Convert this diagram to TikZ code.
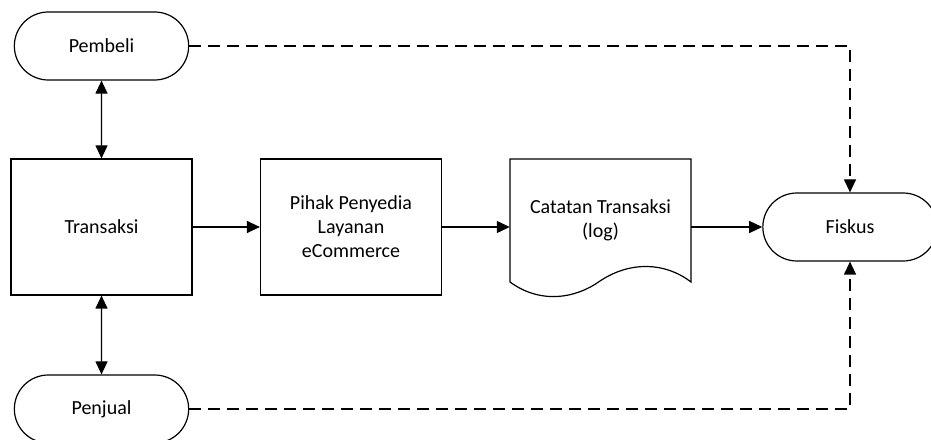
\documentclass[tikz,border=0pt]{standalone}
\usepackage{fontspec}
\setmainfont{Carlito}
\usepackage{tikz}
\usetikzlibrary{arrows.meta,shapes.misc}

\begin{document}
\begin{tikzpicture}[x=1pt, y=1pt, font=\fontsize{20}{24}\selectfont,
        terminal/.style={draw, rounded rectangle, line width=1.2pt, minimum width=181pt, minimum height=68pt},
        process/.style={draw, rectangle, line width=1.2pt, align=center, minimum width=181pt, minimum height=136pt},
        flow/.style={-{Triangle[length=13pt,width=12pt]}, line width=1.2pt},
        both/.style={{Triangle[length=13pt,width=12pt]}-{Triangle[length=13pt,width=12pt]}, line width=1.2pt},
        report/.style={flow, dash pattern=on 12pt off 7pt}]
        \useasboundingbox (0,0) rectangle (931,439);

        % Actors
        \node[terminal] (pembeli) at (101.5, 393) {Pembeli};
        \node[terminal] (penjual) at (101.5, 30) {Penjual};
        \node[terminal] (fiskus) at (850, 212) {Fiskus};

        % Process
        \node[process] (transaksi) at (101.5, 212) {Transaksi};
        \node[process] (pihak) at (351, 212) {Pihak Penyedia\\Layanan\\eCommerce};

        % Log document
        \node[minimum width=181pt, minimum height=136pt] (catatan) at (600.5, 212) {};
        \draw[line width=1.2pt] (510,157) -- (510,280) -- (691,280) -- (691,157)
            .. controls (665,177) and (630,178) .. (600,158)
            .. controls (575,140) and (540,135) .. (510,157) -- cycle;
        \node[align=center] (catatantext) at (600.5, 219) {Catatan Transaksi\\(log)};

        % Connections
        \draw[both] (pembeli) -- (transaksi);
        \draw[both] (transaksi) -- (penjual);
        \draw[flow] (transaksi) -- (pihak);
        \draw[flow] (pihak) -- (catatan);
        \draw[flow] (catatan) -- (fiskus);

        % Reports to Fiskus
        \draw[report] (pembeli.east) -| (fiskus.north);
        \draw[report] (penjual.east) -| (fiskus.south);
    \end{tikzpicture}
\end{document}
